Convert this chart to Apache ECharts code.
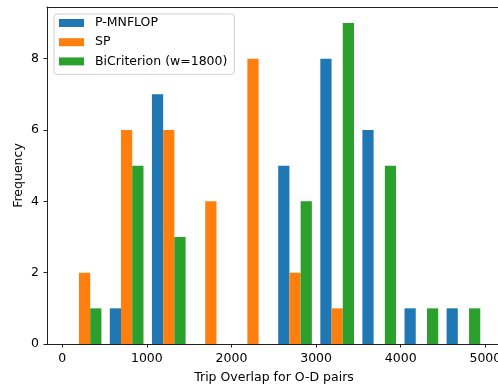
<!DOCTYPE html>
<html><head><meta charset="utf-8">
<script src="https://cdn.jsdelivr.net/npm/echarts@6/dist/echarts.min.js"></script>
<style>html,body{margin:0;padding:0;background:#fff}#c{width:498px;height:387px}</style>
</head><body><div id="c"></div>
<script>
// histogram bin centres (bin width ~497.5)
const binCenters = [264, 761, 1259, 1756, 2254, 2751, 3249, 3746, 4244, 4741];
const pmnflop    = [0, 1, 7, 0, 0, 5, 8, 6, 1, 1];
const sp         = [2, 6, 6, 4, 8, 2, 1, 0, 0, 0];
const bicrit     = [1, 5, 3, 0, 0, 4, 9, 5, 1, 1];
const xTicks = [0, 1000, 2000, 3000, 4000, 5000];
const yTicks = [0, 2, 4, 6, 8];
const names = ['P-MNFLOP', 'SP', 'BiCriterion (w=1800)'];
const colors = ['#1f77b4', '#ff7f0e', '#2ca02c'];

const xMin = -180, xMax = 5185;
const gridLeft = 47, plotW = 454;
const binWidthData = 497.5;
const barPx = 0.8 * binWidthData / 3 * plotW / (xMax - xMin);

const font = 'DejaVu Sans';
const fs = 12.5;
const chart = echarts.init(document.getElementById('c'), null, {renderer: 'canvas'});
const mk = (arr, i) => ({
  name: names[i], type: 'bar', barWidth: barPx, barGap: '0%',
  itemStyle: {color: colors[i]},
  data: binCenters.map((x, k) => [x, arr[k]]),
  animation: false
});
chart.setOption({
  animation: false,
  grid: {left: gridLeft, width: plotW, top: 7, bottom: 43, containLabel: false, outerBoundsMode: 'none'},
  legend: {
    orient: 'vertical', left: 54, top: 14,
    data: names, icon: 'rect', itemWidth: 25, itemHeight: 8, itemGap: 5.2,
    padding: [2, 7, 6, 5],
    borderColor: '#d0d0d0', borderWidth: 1, borderRadius: 3, backgroundColor: 'rgba(255,255,255,0.8)',
    textStyle: {fontFamily: font, fontSize: fs, color: '#000', lineHeight: 14, padding: [0, 0, 0, 6]}
  },
  xAxis: [{
    type: 'value', min: xMin, max: xMax,
    name: 'Trip Overlap for O-D pairs', nameLocation: 'middle', nameGap: 27, nameMoveOverlap: false,
    nameTextStyle: {fontFamily: font, fontSize: fs, color: '#000'},
    splitLine: {show: false},
    axisLine: {show: true, onZero: false, lineStyle: {color: '#222', width: 1}},
    axisTick: {show: true, length: 3.5, lineStyle: {color: '#222'}, customValues: xTicks},
    axisLabel: {fontFamily: font, fontSize: fs, color: '#000', margin: 8, customValues: xTicks,
                formatter: v => String(v)}
  }, {
    type: 'value', position: 'top', min: xMin, max: xMax,
    splitLine: {show: false}, axisTick: {show: false}, axisLabel: {show: false},
    axisLine: {show: true, onZero: false, lineStyle: {color: '#222', width: 1}}
  }],
  yAxis: {
    type: 'value', min: 0, max: 9.45,
    name: 'Frequency', nameLocation: 'middle', nameGap: 22, nameMoveOverlap: false,
    nameTextStyle: {fontFamily: font, fontSize: fs, color: '#000'},
    splitLine: {show: false},
    axisLine: {show: true, onZero: false, lineStyle: {color: '#222', width: 1}},
    axisTick: {show: true, length: 3.5, lineStyle: {color: '#222'}, customValues: yTicks},
    axisLabel: {fontFamily: font, fontSize: fs, color: '#000', margin: 8, customValues: yTicks,
                formatter: v => String(v)}
  },
  series: [mk(pmnflop, 0), mk(sp, 1), mk(bicrit, 2)]
});
</script></body></html>
